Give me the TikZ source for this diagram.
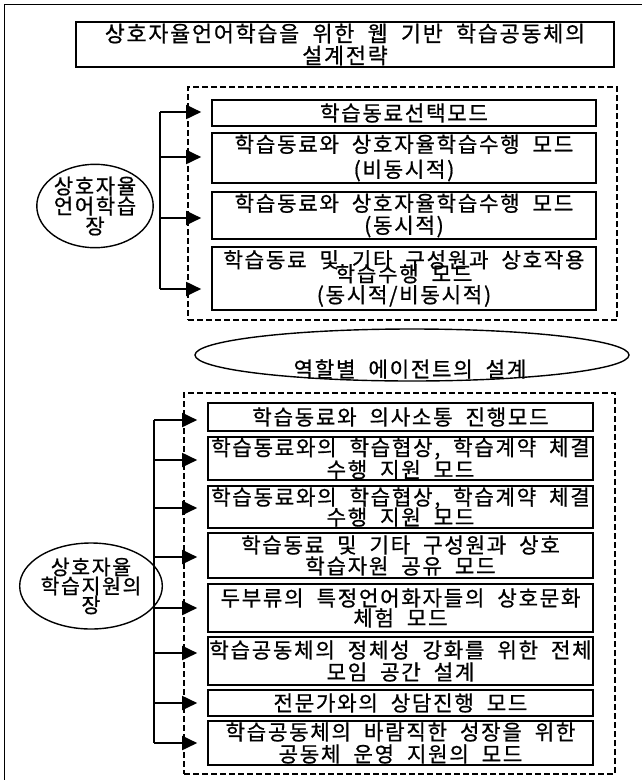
\documentclass[tikz,border=0pt]{standalone}
\usepackage{fontspec}
\setmainfont{Noto Sans CJK KR}[LetterSpace=8,WordSpace=2,FakeBold=0.8]
\usetikzlibrary{arrows.meta,shapes.geometric}
\tikzset{
  txt/.style={font=\fontsize{21.2}{23}\selectfont},
  boxline/.style={line width=1.6pt},
  itembox/.style={draw, boxline, inner sep=0pt, align=center, txt},
  itemtop/.style={itembox, minimum width=384pt},
  itembot/.style={itembox, minimum width=385pt},
  titlebox/.style={draw, boxline, inner sep=0pt, align=center, font=\fontsize{21.8}{22}\selectfont},
  dashbox/.style={draw, line width=1.3pt, dash pattern=on 6pt off 3pt, inner sep=0pt},
  place/.style={ellipse, draw, line width=1.4pt, inner sep=0pt, align=center, font=\fontsize{21}{20}\selectfont},
  trunk/.style={line width=1.8pt},
  conn/.style={line width=1.8pt, -{Triangle[length=15pt,width=14pt]}, shorten >=10pt},
  frame/.style={line width=1.5pt},
}
\begin{document}
\begin{tikzpicture}[x=1pt,y=-1pt]
\useasboundingbox (0,0) rectangle (642,780);
\draw[frame] (4.5,780) -- (4.5,4.5) -- (642,4.5);

% title
\node[titlebox, minimum width=538pt, minimum height=45pt] (title) at (345,44.5)
  {상호자율언어학습을 위한 웹 기반 학습공동체의\\설계전략};

% upper group
\node[dashbox, minimum width=429pt, minimum height=233pt] (grpA) at (402.5,203.5) {};
\node[itemtop, minimum height=26pt] (a1) at (404,113) {학습동료선택모드};
\node[itemtop, minimum height=50pt] (a2) at (404,158) {학습동료와 상호자율학습수행 모드\\[2pt](비동시적)};
\node[itemtop, minimum height=47pt] (a3) at (404,215.5) {학습동료와 상호자율학습수행 모드\\[-1pt](동시적)};
\node[itemtop, minimum height=63pt] (a4) at (404,278.5) {학습동료 및 기타 구성원과 상호작용\\[-9pt]학습수행 모드\\[-2pt](동시적/비동시적)};
\node[place, minimum width=115pt, minimum height=80pt] (pA) at (95,206) {상호자율\\언어학습\\장};

\coordinate (jA1) at (160,112);
\coordinate (jA2) at (160,157);
\coordinate (jA3) at (160,218);
\coordinate (jA4) at (160,289);
\draw[trunk] (jA1) -- (jA4);
\draw[conn] (jA1) -- (jA1 -| a1.west);
\draw[conn] (jA2) -- (jA2 -| a2.west);
\draw[conn] (jA3) -- (jA3 -| a3.west);
\draw[conn] (jA4) -- (jA4 -| a4.west);

% middle ellipse
\node[ellipse, draw, line width=1.4pt, minimum width=434pt, minimum height=52pt] (role) at (412,355) {};
\node[txt] (roletext) at (410,369) {역할별 에이전트의 설계};

% lower group
\node[dashbox, minimum width=431pt, minimum height=381pt] (grpB) at (399.5,583.5) {};
\node[itembot, minimum height=28pt] (b1) at (400.5,417) {학습동료와 의사소통 진행모드};
\node[itembot, minimum height=43pt] (b2) at (400.5,458.5) {학습동료와의 학습협상, 학습계약 체결\\[-1pt]수행 지원 모드};
\node[itembot, minimum height=42pt] (b3) at (400.5,507) {학습동료와의 학습협상, 학습계약 체결\\[-3pt]수행 지원 모드};
\node[itembot, minimum height=45pt] (b4) at (400.5,555.5) {학습동료 및 기타 구성원과 상호\\[-2pt]학습자원 공유 모드};
\node[itembot, minimum height=48pt] (b5) at (400.5,608) {두부류의 특정언어화자들의 상호문화\\[-3pt]체험 모드};
\node[itembot, minimum height=48pt] (b6) at (400.5,661) {학습공동체의 정체성 강화를 위한 전체\\[-1pt]모임 공간 설계};
\node[itembot, minimum height=26pt] (b7) at (400.5,703) {전문가와의 상담진행 모드};
\node[itembot, minimum height=44pt] (b8) at (400.5,743) {학습공동체의 바람직한 성장을 위한\\[-1pt]공동체 운영 지원의 모드};
\node[place, minimum width=112pt, minimum height=86pt, font=\fontsize{20.5}{19}\selectfont] (pB) at (91,586) {상호자율\\학습지원의\\장};

\coordinate (jB1) at (154,420);
\coordinate (jB2) at (154,460);
\coordinate (jB3) at (154,508);
\coordinate (jB4) at (154,557);
\coordinate (jB5) at (154,608);
\coordinate (jB6) at (154,653);
\coordinate (jB7) at (154,703);
\coordinate (jB8) at (154,743);
\draw[trunk] (jB1) -- (jB8);
\draw[conn] (jB1) -- (jB1 -| b1.west);
\draw[conn] (jB2) -- (jB2 -| b2.west);
\draw[conn] (jB3) -- (jB3 -| b3.west);
\draw[conn] (jB4) -- (jB4 -| b4.west);
\draw[conn] (jB5) -- (jB5 -| b5.west);
\draw[conn] (jB6) -- (jB6 -| b6.west);
\draw[conn] (jB7) -- (jB7 -| b7.west);
\draw[conn] (jB8) -- (jB8 -| b8.west);
\end{tikzpicture}
\end{document}
